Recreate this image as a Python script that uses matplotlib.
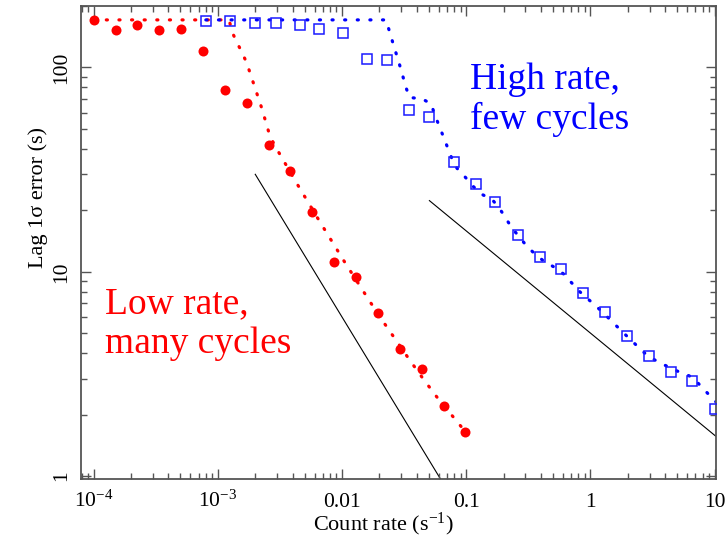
import matplotlib
matplotlib.use("Agg")
import matplotlib.pyplot as plt
from matplotlib.ticker import FixedLocator, LogLocator, NullFormatter

plt.rcParams['font.family'] = ['Liberation Serif', 'DejaVu Serif']
plt.rcParams['mathtext.fontset'] = 'custom'
plt.rcParams['mathtext.rm'] = 'Liberation Serif'
plt.rcParams['mathtext.it'] = 'Liberation Serif:italic'
plt.rcParams['mathtext.bf'] = 'Liberation Serif:bold'

# ---- data: low rate, many cycles (red) ----
red_x = [1.0e-4, 1.5e-4, 2.25e-4, 3.375e-4, 5.06e-4, 7.59e-4, 1.14e-3, 1.71e-3,
         2.56e-3, 3.84e-3, 5.77e-3, 8.65e-3, 0.0130, 0.0195, 0.0292, 0.0438,
         0.0657, 0.0985]
red_y = [171, 152, 161, 153, 155, 120, 77.8, 67.3, 41.8, 31.2, 19.7, 11.2,
         9.39, 6.27, 4.18, 3.35, 2.20, 1.64]
red_model_x = [1.0e-4, 1.23e-3, 1.31e-3, 1.42e-3, 1.57e-3, 1.71e-3, 1.97e-3,
               2.26e-3, 2.55e-3, 2.73e-3, 3.07e-3, 4.27e-3, 6.65e-3, 0.0105,
               0.0168, 0.0213, 0.0351, 0.0452, 0.0585, 0.099]
red_model_y = [171, 171, 148, 133, 118, 105, 81, 63, 49, 44, 38.7, 27.4, 17.5,
               11.15, 7.13, 5.73, 3.69, 2.98, 2.42, 1.64]

# ---- data: high rate, few cycles (blue) ----
blue_x = [8.03e-4, 1.25e-3, 2.00e-3, 2.94e-3, 4.59e-3, 6.49e-3, 0.0101, 0.0158,
          0.0229, 0.0344, 0.0505, 0.0793, 0.119, 0.1715, 0.261, 0.393, 0.583,
          0.877, 1.318, 1.971, 2.947, 4.43, 6.61, 10.02]
blue_y = [169, 169, 165.6, 164.3, 161.4, 154.8, 147.9, 109.5, 109.1, 61.8, 57.3,
          34.5, 26.8, 21.9, 15.1, 11.77, 10.27, 7.89, 6.32, 4.86, 3.87, 3.22,
          2.92, 2.12]
blue_model_x = [8.0e-4, 0.0226, 0.0256, 0.0289, 0.0328, 0.0349, 0.044, 0.0521,
                0.0558, 0.0654, 0.0769, 0.0843, 0.0984, 0.1128, 0.1323, 0.1614,
                0.1847, 0.2325, 0.307, 0.358, 0.423, 0.509, 0.610, 0.814, 1.124,
                1.318, 1.797, 2.447, 2.893, 3.457, 4.16, 5.14, 6.26, 7.35, 8.53,
                9.89, 10.3]
blue_model_y = [171, 171, 132.6, 104.3, 79.5, 71.3, 70.3, 66.4, 58.7, 45.9, 35.6,
                32.1, 29.0, 26.3, 24.0, 22.6, 20.5, 16.43, 13.36, 12.2, 11.25,
                10.55, 9.74, 8.02, 6.74, 6.15, 5.10, 4.26, 3.87, 3.64, 3.44,
                3.24, 3.09, 2.85, 2.59, 2.35, 2.30]

# ---- reference power-law lines (black) ----
ref1_x = [0.002, 0.0625]
ref1_y = [30.0, 0.96]
ref2_x = [0.0505, 10.3]
ref2_y = [22.3, 1.56]

# ---- ticks ----
xticks = [1e-4, 1e-3, 0.01, 0.1, 1, 10]
xticklabels = [r'$10^{-4}$', r'$10^{-3}$', '0.01', '0.1', '1', '10']
yticks = [1, 10, 100]
yticklabels = ['1', '10', '100']

fig = plt.figure(figsize=(7.25, 5.39), dpi=100)
ax = fig.add_axes([80.7/725, 60/539, 635.3/725, 473/539])
ax.set_xscale('log')
ax.set_yscale('log')
ax.set_xlim(7.86e-5, 10.26)
ax.set_ylim(0.967, 200)

dot_style = dict(linestyle=(0, (0.35, 3.6)), linewidth=2.3, dash_capstyle='round')
ax.plot(red_model_x, red_model_y, color='#ff0000', **dot_style, zorder=2)
ax.plot(blue_model_x, blue_model_y, color='#0000ff', **dot_style, zorder=2)
ax.plot(red_x, red_y, 'o', color='#ff0000', markersize=7.2, markeredgewidth=0, zorder=3)
ax.plot(blue_x, blue_y, 's', markerfacecolor='none', markeredgecolor='#1a1aff',
        markersize=6.8, markeredgewidth=1.1, zorder=3)
ax.plot(ref1_x, ref1_y, color='black', linewidth=0.8, zorder=1)
ax.plot(ref2_x, ref2_y, color='black', linewidth=0.8, zorder=1)

frame_color = '#555555'
for s in ax.spines.values():
    s.set_color(frame_color)
    s.set_linewidth(1.3)

ax.xaxis.set_major_locator(FixedLocator(xticks))
ax.xaxis.set_minor_locator(LogLocator(base=10, subs=range(2, 10), numticks=20))
ax.xaxis.set_minor_formatter(NullFormatter())
ax.yaxis.set_major_locator(FixedLocator(yticks))
ax.yaxis.set_minor_locator(LogLocator(base=10, subs=range(2, 10), numticks=20))
ax.yaxis.set_minor_formatter(NullFormatter())
ax.set_xticks(xticks)
ax.set_xticklabels(xticklabels)
ax.set_yticks(yticks)
ax.set_yticklabels(yticklabels)

ax.tick_params(which='both', direction='in', top=True, right=True,
               color=frame_color, width=1.0)
ax.tick_params(which='major', length=7.2)
ax.tick_params(which='minor', length=4.0)
ax.tick_params(axis='x', which='major', labelsize=15.5, pad=20)
ax.tick_params(axis='y', which='major', labelsize=15.5, pad=7)
for lab in ax.get_xticklabels():
    lab.set_verticalalignment('baseline')
for lab in ax.get_yticklabels():
    lab.set_rotation(90)
    lab.set_verticalalignment('center')

ax.set_xlabel(r'Count rate ($\mathregular{s^{-1}}$)', fontsize=16)
ax.xaxis.set_label_coords(0.476, -0.068)
ax.set_ylabel('Lag 1σ error (s)', fontsize=16)
ax.yaxis.set_label_coords(-0.0515, 0.595)

ax.text(0.0383, 0.350, 'Low rate,', transform=ax.transAxes, color='#ff0000',
        fontsize=27, va='baseline', ha='left')
ax.text(0.0383, 0.267, 'many cycles', transform=ax.transAxes, color='#ff0000',
        fontsize=27, va='baseline', ha='left')
ax.text(0.6128, 0.824, 'High rate,', transform=ax.transAxes, color='#0000ff',
        fontsize=27, va='baseline', ha='left')
ax.text(0.6128, 0.739, 'few cycles', transform=ax.transAxes, color='#0000ff',
        fontsize=27, va='baseline', ha='left')

fig.savefig('out.png', dpi=100)
